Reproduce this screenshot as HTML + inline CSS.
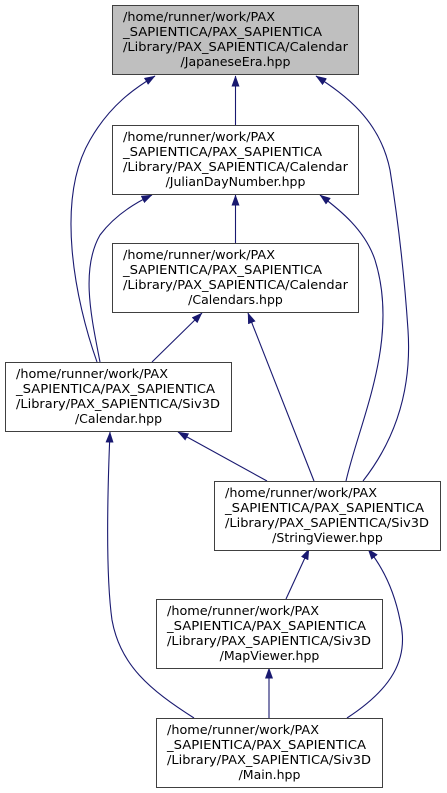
<!DOCTYPE html>
<html><head><meta charset="utf-8"><style>
html,body{margin:0;padding:0;background:#fff;}
svg{display:block;}
text{font-family:"DejaVu Sans","Liberation Sans",sans-serif;font-size:12.5px;fill:#000;}
</style></head><body>
<svg width="447" height="793" viewBox="0 0 447 793" xmlns="http://www.w3.org/2000/svg">
<defs>
<marker id="a" markerWidth="11" markerHeight="8" refX="10.5" refY="4" orient="auto" markerUnits="userSpaceOnUse">
<path d="M0,0 L11,4 L0,8 Z" fill="#191970"/>
</marker>
</defs>
<g fill="none" stroke="#191970" stroke-width="1.1" marker-end="url(#a)">
<path d="M235.5,125 L235.5,76"/>
<path d="M235.5,243 L235.5,195"/>
<path d="M97,362 C75,300 55,200 90,140 C110,105 135,88 155,76"/>
<path d="M100,362 C92,320 80,270 100,235 C115,215 135,203 152,195"/>
<path d="M152,362 L202,313"/>
<path d="M314,481 L248,313"/>
<path d="M346,481 C360,420 400,340 375,260 C365,230 340,210 320,195"/>
<path d="M363,481 C395,440 412,390 408,330 C404,270 398,220 390,170 C380,120 345,95 316,76"/>
<path d="M267,481 L178,432"/>
<path d="M286,599 L309,549"/>
<path d="M269,718 L269,668"/>
<path d="M347,718 C390,690 410,660 400,620 C395,595 385,570 368,549"/>
<path d="M194,718 C150,690 120,665 112,620 C105,570 108,480 110,432"/>
</g>
<g stroke="#404040" stroke-width="1" fill="#fff">
<rect x="112.5" y="5.5" width="246" height="69" fill="#bfbfbf"/>
<rect x="112.5" y="125.5" width="246" height="69"/>
<rect x="112.5" y="243.5" width="246" height="69"/>
<rect x="5.5" y="362.5" width="226" height="69"/>
<rect x="214.5" y="481.5" width="226" height="69"/>
<rect x="156.5" y="599.5" width="226" height="69"/>
<rect x="156.5" y="718.5" width="226" height="69"/>
</g>
<g>
<text x="123" y="21" textLength="152" lengthAdjust="spacingAndGlyphs">/home/runner/work/PAX</text>
<text x="123" y="36" textLength="199" lengthAdjust="spacingAndGlyphs">_SAPIENTICA/PAX_SAPIENTICA</text>
<text x="123" y="51" textLength="225" lengthAdjust="spacingAndGlyphs">/Library/PAX_SAPIENTICA/Calendar</text>
<text x="235.5" y="66" text-anchor="middle" textLength="110" lengthAdjust="spacingAndGlyphs">/JapaneseEra.hpp</text>

<text x="123" y="141" textLength="152" lengthAdjust="spacingAndGlyphs">/home/runner/work/PAX</text>
<text x="123" y="156" textLength="199" lengthAdjust="spacingAndGlyphs">_SAPIENTICA/PAX_SAPIENTICA</text>
<text x="123" y="171" textLength="225" lengthAdjust="spacingAndGlyphs">/Library/PAX_SAPIENTICA/Calendar</text>
<text x="235.5" y="186" text-anchor="middle">/JulianDayNumber.hpp</text>

<text x="123" y="259" textLength="152" lengthAdjust="spacingAndGlyphs">/home/runner/work/PAX</text>
<text x="123" y="274" textLength="199" lengthAdjust="spacingAndGlyphs">_SAPIENTICA/PAX_SAPIENTICA</text>
<text x="123" y="289" textLength="225" lengthAdjust="spacingAndGlyphs">/Library/PAX_SAPIENTICA/Calendar</text>
<text x="235.5" y="304" text-anchor="middle">/Calendars.hpp</text>

<text x="16" y="378" textLength="152" lengthAdjust="spacingAndGlyphs">/home/runner/work/PAX</text>
<text x="16" y="393" textLength="199" lengthAdjust="spacingAndGlyphs">_SAPIENTICA/PAX_SAPIENTICA</text>
<text x="16" y="408" textLength="204" lengthAdjust="spacingAndGlyphs">/Library/PAX_SAPIENTICA/Siv3D</text>
<text x="118.5" y="423" text-anchor="middle">/Calendar.hpp</text>

<text x="225" y="497" textLength="152" lengthAdjust="spacingAndGlyphs">/home/runner/work/PAX</text>
<text x="225" y="512" textLength="199" lengthAdjust="spacingAndGlyphs">_SAPIENTICA/PAX_SAPIENTICA</text>
<text x="225" y="527" textLength="204" lengthAdjust="spacingAndGlyphs">/Library/PAX_SAPIENTICA/Siv3D</text>
<text x="327.5" y="542" text-anchor="middle">/StringViewer.hpp</text>

<text x="167" y="615" textLength="152" lengthAdjust="spacingAndGlyphs">/home/runner/work/PAX</text>
<text x="167" y="630" textLength="199" lengthAdjust="spacingAndGlyphs">_SAPIENTICA/PAX_SAPIENTICA</text>
<text x="167" y="645" textLength="204" lengthAdjust="spacingAndGlyphs">/Library/PAX_SAPIENTICA/Siv3D</text>
<text x="269.5" y="660" text-anchor="middle">/MapViewer.hpp</text>

<text x="167" y="734" textLength="152" lengthAdjust="spacingAndGlyphs">/home/runner/work/PAX</text>
<text x="167" y="749" textLength="199" lengthAdjust="spacingAndGlyphs">_SAPIENTICA/PAX_SAPIENTICA</text>
<text x="167" y="764" textLength="204" lengthAdjust="spacingAndGlyphs">/Library/PAX_SAPIENTICA/Siv3D</text>
<text x="269.5" y="779" text-anchor="middle">/Main.hpp</text>
</g>
</svg>
</body></html>
